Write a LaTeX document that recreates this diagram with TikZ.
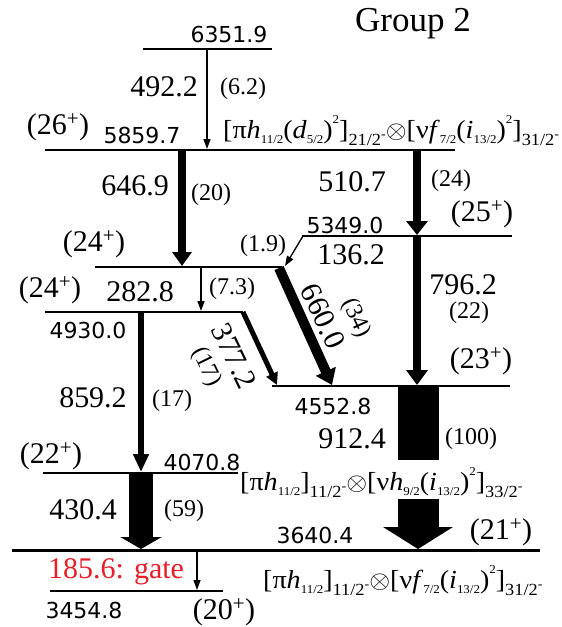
\documentclass[tikz,border=0pt]{standalone}
\usepackage{fontspec}
\usepackage{graphicx}
\setmainfont{Liberation Serif}
\newfontfamily\ensans{DejaVu Sans}
\usetikzlibrary{arrows.meta}
\definecolor{gatered}{RGB}{232,30,40}
\newcommand{\lo}[2][12]{\raisebox{-0.2em}{\fontsize{#1}{#1}\selectfont #2}}
\newcommand{\hi}[2][12]{\raisebox{0.55em}{\fontsize{#1}{#1}\selectfont #2}}
\newcommand{\jsub}[1]{\raisebox{-0.3em}{\fontsize{17}{17}\selectfont #1\raisebox{0.45em}{\fontsize{13}{13}\selectfont -}}}
\newcommand{\cfgbox}[1]{\scalebox{1.08}[1]{#1}}
\tikzset{
  lvl/.style={line width=2.2pt},
  en/.style={font=\ensans\fontsize{22}{22}\selectfont, inner sep=0pt},
  spin/.style={font=\fontsize{30}{30}\selectfont, inner sep=0pt},
  tr/.style={font=\fontsize{30}{30}\selectfont, inner sep=0pt},
  inten/.style={font=\fontsize{24}{24}\selectfont, inner sep=0pt},
  cfg/.style={font=\fontsize{26}{26}\selectfont, inner sep=0pt, anchor=base west},
  thinarrow/.style={line width=1.3pt, -{Triangle[width=7pt,length=10pt]}},
  gam/.style n args={3}{line width=#1, -{Triangle[width=#2,length=#3]}},
}
\begin{document}
\begin{tikzpicture}[x=1pt,y=-1pt]
\useasboundingbox (0,0) rectangle (562,627);
% title
\node[font=\fontsize{35}{35}\selectfont, inner sep=0pt] (title) at (413,24) {Group 2};
% levels
\draw[lvl] (143,49) coordinate (l6351a) -- (272,49) coordinate (l6351b);
\draw[lvl] (45,150) coordinate (l5859a) -- (455,150) coordinate (l5859b);
\draw[lvl] (302,236) coordinate (l5349a) -- (512,236) coordinate (l5349b);
\draw[lvl] (95,267) coordinate (l5212a) -- (282,267) coordinate (l5212b);
\draw[lvl] (45,312) coordinate (l4930a) -- (243,312) coordinate (l4930b);
\draw[lvl] (272,386) coordinate (l4552a) -- (510,386) coordinate (l4552b);
\draw[lvl] (43,473) coordinate (l4070a) -- (238,473) coordinate (l4070b);
\draw[line width=3pt] (12,550) coordinate (l3640a) -- (540,550) coordinate (l3640b);
\draw[lvl] (50,591) coordinate (l3454a) -- (223,591) coordinate (l3454b);
% energies
\node[en] (e6351) at (229,34) {6351.9};
\node[en] (e5859) at (142,135) {5859.7};
\node[en] (e5349) at (345,225) {5349.0};
\node[en] (e4930) at (88,330) {4930.0};
\node[en] (e4552) at (333,406) {4552.8};
\node[en] (e4070) at (202,462) {4070.8};
\node[en] (e3640) at (315,535) {3640.4};
\node[en] (e3454) at (84,610) {3454.8};
% spins
\node[spin] (s26) at (58,127) {(26\textsuperscript{+})};
\node[spin] (s24a) at (94,244) {(24\textsuperscript{+})};
\node[spin] (s24b) at (50,290) {(24\textsuperscript{+})};
\node[spin] (s25) at (482,214) {(25\textsuperscript{+})};
\node[spin] (s23) at (481,361) {(23\textsuperscript{+})};
\node[spin] (s22) at (51,456) {(22\textsuperscript{+})};
\node[spin] (s21) at (501,532) {(21\textsuperscript{+})};
\node[spin] (s20) at (224,612) {(20\textsuperscript{+})};
% gamma coordinates
\coordinate (g492s) at (207,49);  \coordinate (g492e) at (207,149);
\coordinate (g646s) at (182,150); \coordinate (g646e) at (182,266);
\coordinate (g510s) at (417,150); \coordinate (g510e) at (417,235);
\coordinate (g136s) at (303,236); \coordinate (g136e) at (285,266);
\coordinate (g660s) at (279,268); \coordinate (g660e) at (332,385);
\coordinate (g282s) at (201,267); \coordinate (g282e) at (201,311);
\coordinate (g377s) at (243,312); \coordinate (g377e) at (277,385);
\coordinate (g796s) at (417,236); \coordinate (g796e) at (417,385);
\coordinate (g912s) at (418,386); \coordinate (g912m) at (418,460);
\coordinate (g912n) at (418,499); \coordinate (g912e) at (418,549);
\coordinate (g859s) at (141,312); \coordinate (g859e) at (141,472);
\coordinate (g430s) at (141,473); \coordinate (g430e) at (141,549);
\coordinate (g185s) at (197,550); \coordinate (g185e) at (197,590);
% gammas
\draw[thinarrow] (g492s) -- (g492e);
\draw[gam={8pt}{19pt}{14pt}] (g646s) -- (g646e);
\draw[gam={8pt}{21pt}{14pt}] (g510s) -- (g510e);
\draw[thinarrow] (g136s) -- (g136e);
\draw[gam={10pt}{21pt}{15pt}] (g660s) -- (g660e);
\draw[thinarrow] (g282s) -- (g282e);
\draw[gam={5pt}{12pt}{12pt}] (g377s) -- (g377e);
\draw[gam={8pt}{21pt}{15pt}] (g796s) -- (g796e);
\draw[line width=41pt] (g912s) -- (g912m);
\draw[gam={41pt}{69pt}{22pt}] (g912n) -- (g912e);
\draw[gam={6pt}{15pt}{18pt}] (g859s) -- (g859e);
\draw[gam={24pt}{41pt}{12pt}] (g430s) -- (g430e);
\draw[thinarrow] (g185s) -- (g185e);
% transition labels
\node[tr] (t492) at (164,87) {492.2};
\node[inten] (i492) at (243,89) {(6.2)};
\node[tr] (t646) at (135,186) {646.9};
\node[inten] (i646) at (211,195) {(20)};
\node[tr] (t510) at (352,182) {510.7};
\node[inten] (i510) at (451,181) {(24)};
\node[tr] (t136) at (351,255) {136.2};
\node[inten] (i136) at (263,246) {(1.9)};
\node[tr, rotate=-65] (t660) at (323,316) {660.0};
\node[inten, rotate=-65] (i660) at (356,318) {(34)};
\node[tr] (t282) at (140,292) {282.8};
\node[inten] (i282) at (232,289) {(7.3)};
\node[tr, rotate=-64] (t377) at (234,356) {377.2};
\node[inten, rotate=-64] (i377) at (206,367) {(17)};
\node[tr] (t796) at (463,285) {796.2};
\node[inten] (i796) at (469,313) {(22)};
\node[tr] (t859) at (93,398) {859.2};
\node[inten] (i859) at (172,401) {(17)};
\node[tr] (t912) at (352,439) {912.4};
\node[inten] (i912) at (471,439) {(100)};
\node[tr] (t430) at (83,510) {430.4};
\node[inten] (i430) at (184,511) {(59)};
\node[tr, text=gatered, anchor=west] (t185) at (48,572) {185.6: gate};
% configurations
\node[cfg] (c1) at (223,138) {\cfgbox{[π\textit{h}\lo{11/2}(\textit{d}\lo{5/2})\hi{2}]\jsub{21/2}$\otimes$[ν\textit{f}\lo{7/2}(\textit{i}\lo{13/2})\hi{2}]\jsub{31/2}}};
\node[cfg] (c2) at (240,490) {\cfgbox{[π\textit{h}\lo{11/2}]\jsub{11/2}$\otimes$[ν\textit{h}\lo{9/2}(\textit{i}\lo{13/2})\hi{2}]\jsub{33/2}}};
\node[cfg] (c3) at (263,588) {\cfgbox{[π\textit{h}\lo{11/2}]\jsub{11/2}$\otimes$[ν\textit{f}\lo{7/2}(\textit{i}\lo{13/2})\hi{2}]\jsub{31/2}}};
\end{tikzpicture}
\end{document}
